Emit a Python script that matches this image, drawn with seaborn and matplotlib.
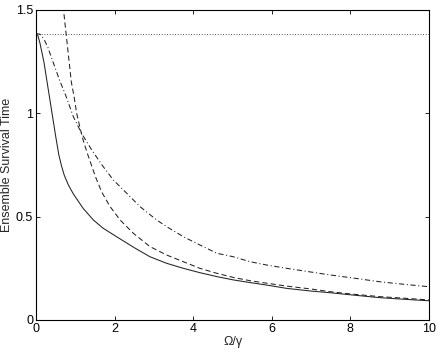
import numpy as np
import pandas as pd
import seaborn as sns
import matplotlib
matplotlib.use("Agg")
import matplotlib.pyplot as plt

# values
solid_x = [0, 0.05, 0.1, 0.2, 0.3, 0.4, 0.5, 0.58, 0.65, 0.72, 0.82, 0.95, 1.2, 1.46, 1.7,
           2.05, 2.5, 2.9, 3.33, 3.75, 4.17, 4.6, 5.02, 5.45, 5.87, 6.38, 7.0, 7.48, 8.0, 8.75, 9.4, 10]
solid_y = [1.386, 1.375, 1.34, 1.25, 1.13, 1.01, 0.89, 0.80, 0.745, 0.70, 0.655, 0.61, 0.54, 0.484, 0.445,
           0.403, 0.35, 0.306, 0.274, 0.25, 0.229, 0.21, 0.194, 0.181, 0.169, 0.153, 0.14, 0.132, 0.122, 0.108, 0.10, 0.093]

dashed_x = [0.69, 0.74, 0.82, 0.9, 0.97, 1.035, 1.12, 1.2, 1.3, 1.4, 1.52, 1.67, 1.88, 2.14, 2.48, 2.9,
            3.33, 3.75, 4.17, 4.6, 5.02, 5.45, 5.87, 6.38, 7.0, 7.48, 8.0, 8.75, 9.4, 10]
dashed_y = [1.52, 1.43, 1.29, 1.15, 1.08, 1.0, 0.93, 0.87, 0.81, 0.755, 0.69, 0.62, 0.55, 0.484, 0.419, 0.355,
            0.314, 0.282, 0.25, 0.226, 0.206, 0.19, 0.178, 0.164, 0.15, 0.137, 0.126, 0.113, 0.105, 0.097]

dashdot_x = [0, 0.1, 0.2, 0.3, 0.45, 0.6, 0.75, 0.95, 1.16, 1.42, 1.71, 1.97, 2.31, 2.65, 3.07, 3.33, 3.75,
             4.17, 4.6, 5.02, 5.45, 5.87, 6.38, 7.0, 7.48, 8.0, 8.75, 9.4, 10]
dashdot_y = [1.386, 1.383, 1.36, 1.32, 1.24, 1.16, 1.09, 0.984, 0.903, 0.822, 0.742, 0.677, 0.613, 0.548, 0.484, 0.451, 0.403,
             0.363, 0.323, 0.306, 0.282, 0.266, 0.25, 0.232, 0.218, 0.205, 0.185, 0.172, 0.161]

limit_x = [0, 10]
limit_y = [1.386, 1.386]

xticks = [0, 2, 4, 6, 8, 10]
yticks = [0, 0.5, 1, 1.5]
ytick_labels = ["0", "0.5", "1", "1.5"]

sns.set_style("ticks")
plt.rcParams["font.family"] = ["Liberation Sans", "DejaVu Sans"]
plt.rcParams["xtick.direction"] = "in"
plt.rcParams["ytick.direction"] = "in"
plt.rcParams["xtick.top"] = True
plt.rcParams["ytick.right"] = True

fig = plt.figure(figsize=(4.4, 3.52), dpi=100)
ax = fig.add_axes([36 / 440, 32 / 352, 393 / 440, 310 / 352])

lw = 0.75
ink = "#222222"
sns.lineplot(x=solid_x, y=solid_y, ax=ax, color=ink, lw=lw, estimator=None, sort=False)
sns.lineplot(x=dashed_x, y=dashed_y, ax=ax, color=ink, lw=lw, estimator=None, sort=False,
             linestyle=(0, (5, 3)))
sns.lineplot(x=dashdot_x, y=dashdot_y, ax=ax, color=ink, lw=lw, estimator=None, sort=False,
             linestyle=(0, (5, 2.5, 1, 2.5)))
sns.lineplot(x=limit_x, y=limit_y, ax=ax, color=ink, lw=0.6, estimator=None, sort=False,
             linestyle=(0, (1, 2.2)))

ax.set_xlim(0, 10)
ax.set_ylim(0, 1.5)
ax.set_xticks(xticks)
ax.set_xticklabels([str(t) for t in xticks])
ax.set_yticks(yticks)
ax.set_yticklabels(ytick_labels)
ax.tick_params(labelsize=9, length=3, width=0.6, pad=2, colors="black")
for s in ax.spines.values():
    s.set_visible(True)
    s.set_linewidth(0.8)
    s.set_color("black")

ax.set_xlabel("Ω/γ", fontsize=9, labelpad=1)
ax.set_ylabel("Ensemble Survival Time", fontsize=9, labelpad=2)

fig.savefig("out.png", dpi=100)
